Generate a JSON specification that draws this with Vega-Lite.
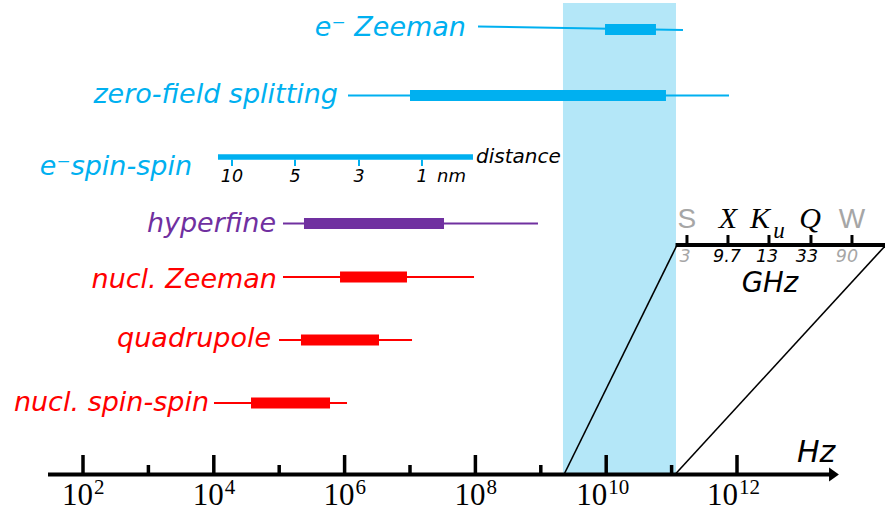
{
  "$schema": "https://vega.github.io/schema/vega-lite/v6.json",
  "width": 885,
  "height": 516,
  "autosize": {"type": "none"},
  "padding": 0,
  "background": "white",
  "config": {"view": {"stroke": null}},
  "encoding": {
    "x": {"field": "L", "type": "quantitative", "scale": {"domain": [0.7309, 14.263], "nice": false, "zero": false}, "axis": null},
    "y": {"field": "lv", "type": "quantitative", "scale": {"domain": [0, 8.6], "nice": false, "zero": false}, "axis": null}
  },
  "layer": [
    {
      "data": {"values": [{"L": 9.339, "L2": 11.067, "lv": 0.7, "lv2": 8.55}]},
      "mark": {"type": "rect", "fill": "#B4E7F8"},
      "encoding": {"x2": {"field": "L2"}, "y2": {"field": "lv2"}}
    },
    {
      "data": {"values": [
        {"name": "e Zeeman", "grp": "electron", "L": 8.04, "L2": 11.174, "lv": 8.158, "lv2": 8.1},
        {"name": "zero-field", "grp": "electron", "L": 6.052, "L2": 11.878, "lv": 7.008, "lv2": 7.008},
        {"name": "hyperfine", "grp": "hyperfine", "L": 5.058, "L2": 8.957, "lv": 4.875, "lv2": 4.875},
        {"name": "nucl Zeeman", "grp": "nuclear", "L": 5.058, "L2": 7.979, "lv": 3.983, "lv2": 3.983},
        {"name": "quadrupole", "grp": "nuclear", "L": 4.997, "L2": 7.031, "lv": 2.933, "lv2": 2.933},
        {"name": "nucl spin-spin", "grp": "nuclear", "L": 4.003, "L2": 6.037, "lv": 1.883, "lv2": 1.883}
      ]},
      "mark": {"type": "rule", "strokeWidth": 2},
      "encoding": {
        "x2": {"field": "L2"},
        "y2": {"field": "lv2"},
        "color": {"field": "grp", "type": "nominal", "scale": {"domain": ["electron", "hyperfine", "nuclear"], "range": ["#00B0F0", "#7030A0", "#FF0000"]}, "legend": null}
      }
    },
    {
      "data": {"values": [
        {"name": "e Zeeman", "grp": "electron", "L": 9.982, "L2": 10.761, "lv": 8.108},
        {"name": "zero-field", "grp": "electron", "L": 7.0, "L2": 10.914, "lv": 7.008},
        {"name": "hyperfine", "grp": "hyperfine", "L": 5.379, "L2": 7.52, "lv": 4.875},
        {"name": "nucl Zeeman", "grp": "nuclear", "L": 5.93, "L2": 6.954, "lv": 3.983},
        {"name": "quadrupole", "grp": "nuclear", "L": 5.333, "L2": 6.526, "lv": 2.933},
        {"name": "nucl spin-spin", "grp": "nuclear", "L": 4.569, "L2": 5.777, "lv": 1.883}
      ]},
      "mark": {"type": "rule", "strokeWidth": 11, "strokeCap": "butt"},
      "encoding": {
        "x2": {"field": "L2"},
        "color": {"field": "grp", "type": "nominal", "legend": null}
      }
    },
    {
      "data": {"values": [{"L": 4.064, "L2": 7.963, "lv": 5.983}]},
      "mark": {"type": "rule", "strokeWidth": 5.5, "strokeCap": "butt", "color": "#00B0F0"},
      "encoding": {"x2": {"field": "L2"}}
    },
    {
      "data": {"values": [
        {"L": 4.278, "lv": 5.94, "lv2": 5.833},
        {"L": 5.242, "lv": 5.94, "lv2": 5.833},
        {"L": 6.22, "lv": 5.94, "lv2": 5.833},
        {"L": 7.183, "lv": 5.94, "lv2": 5.833}
      ]},
      "mark": {"type": "rule", "strokeWidth": 2, "color": "#00B0F0"},
      "encoding": {"y2": {"field": "lv2"}}
    },
    {
      "data": {"values": [
        {"t": "10", "L": 4.278, "lv": 5.567},
        {"t": "5", "L": 5.242, "lv": 5.567},
        {"t": "3", "L": 6.22, "lv": 5.567},
        {"t": "1", "L": 7.183, "lv": 5.567}
      ]},
      "mark": {"type": "text", "font": "DejaVu Sans", "fontStyle": "italic", "fontSize": 17.5, "align": "center", "baseline": "alphabetic", "color": "black"},
      "encoding": {"text": {"field": "t"}}
    },
    {
      "data": {"values": [{"t": "nm", "L": 7.413, "lv": 5.567}]},
      "mark": {"type": "text", "font": "DejaVu Sans", "fontStyle": "italic", "fontSize": 18, "align": "left", "baseline": "alphabetic", "color": "black"},
      "encoding": {"text": {"field": "t"}}
    },
    {
      "data": {"values": [{"t": "distance", "L": 8.009, "lv": 5.883}]},
      "mark": {"type": "text", "font": "DejaVu Sans", "fontStyle": "italic", "fontSize": 20, "align": "left", "baseline": "alphabetic", "color": "black"},
      "encoding": {"text": {"field": "t"}}
    },
    {
      "data": {"values": [{"L": 1.465, "L2": 13.453, "lv": 0.692}]},
      "mark": {"type": "rule", "strokeWidth": 4, "color": "black"},
      "encoding": {"x2": {"field": "L2"}}
    },
    {
      "data": {"values": [{"L": 13.483, "lv": 0.692}]},
      "mark": {"type": "point", "shape": "M -0.7 -1 L 0.7 0 L -0.7 1 Z", "size": 196, "filled": true, "color": "black", "opacity": 1}
    },
    {
      "data": {"values": [
        {"L": 2, "lv": 0.692, "lv2": 1.017},
        {"L": 3, "lv": 0.692, "lv2": 0.85},
        {"L": 4, "lv": 0.692, "lv2": 1.017},
        {"L": 5, "lv": 0.692, "lv2": 0.85},
        {"L": 6, "lv": 0.692, "lv2": 1.017},
        {"L": 7, "lv": 0.692, "lv2": 0.85},
        {"L": 8, "lv": 0.692, "lv2": 1.017},
        {"L": 9, "lv": 0.692, "lv2": 0.85},
        {"L": 10, "lv": 0.692, "lv2": 1.017},
        {"L": 11, "lv": 0.692, "lv2": 0.85},
        {"L": 12, "lv": 0.692, "lv2": 1.017}
      ]},
      "mark": {"type": "rule", "strokeWidth": 3.5, "strokeCap": "butt", "color": "black"},
      "encoding": {"y2": {"field": "lv2"}}
    },
    {
      "data": {"values": [
        {"t": "10", "L": 2, "lv": 0.183},
        {"t": "10", "L": 4, "lv": 0.183},
        {"t": "10", "L": 6, "lv": 0.183},
        {"t": "10", "L": 8, "lv": 0.183}
      ]},
      "mark": {"type": "text", "font": "Liberation Serif", "fontSize": 31, "align": "right", "dx": 10, "baseline": "alphabetic", "color": "black"},
      "encoding": {"text": {"field": "t"}}
    },
    {
      "data": {"values": [
        {"t": "2", "L": 2, "lv": 0.367},
        {"t": "4", "L": 4, "lv": 0.367},
        {"t": "6", "L": 6, "lv": 0.367},
        {"t": "8", "L": 8, "lv": 0.367}
      ]},
      "mark": {"type": "text", "font": "Liberation Serif", "fontSize": 21, "align": "left", "dx": 11, "baseline": "alphabetic", "color": "black"},
      "encoding": {"text": {"field": "t"}}
    },
    {
      "data": {"values": [
        {"t": "10", "L": 10, "lv": 0.183},
        {"t": "10", "L": 12, "lv": 0.183}
      ]},
      "mark": {"type": "text", "font": "Liberation Serif", "fontSize": 31, "align": "right", "dx": 1, "baseline": "alphabetic", "color": "black"},
      "encoding": {"text": {"field": "t"}}
    },
    {
      "data": {"values": [
        {"t": "10", "L": 10, "lv": 0.367},
        {"t": "12", "L": 12, "lv": 0.367}
      ]},
      "mark": {"type": "text", "font": "Liberation Serif", "fontSize": 21, "align": "left", "dx": 2, "baseline": "alphabetic", "color": "black"},
      "encoding": {"text": {"field": "t"}}
    },
    {
      "data": {"values": [{"t": "Hz", "L": 12.917, "lv": 0.9}]},
      "mark": {"type": "text", "font": "DejaVu Sans", "fontStyle": "italic", "fontSize": 30, "align": "left", "baseline": "alphabetic", "color": "black"},
      "encoding": {"text": {"field": "t"}}
    },
    {
      "data": {"values": [
        {"L": 9.355, "lv": 0.692, "L2": 11.083, "lv2": 4.517},
        {"L": 11.052, "lv": 0.692, "L2": 14.263, "lv2": 4.5}
      ]},
      "mark": {"type": "rule", "strokeWidth": 1.6, "color": "black"},
      "encoding": {"x2": {"field": "L2"}, "y2": {"field": "lv2"}}
    },
    {
      "data": {"values": [{"L": 11.06, "L2": 14.263, "lv": 4.517}]},
      "mark": {"type": "rule", "strokeWidth": 4, "color": "black"},
      "encoding": {"x2": {"field": "L2"}}
    },
    {
      "data": {"values": [
        {"L": 11.235, "lv": 4.517, "lv2": 4.683},
        {"L": 11.862, "lv": 4.517, "lv2": 4.683},
        {"L": 12.489, "lv": 4.517, "lv2": 4.683},
        {"L": 13.131, "lv": 4.517, "lv2": 4.683},
        {"L": 13.758, "lv": 4.517, "lv2": 4.683}
      ]},
      "mark": {"type": "rule", "strokeWidth": 3, "strokeCap": "butt", "color": "black"},
      "encoding": {"y2": {"field": "lv2"}}
    },
    {
      "data": {"values": [
        {"t": "S", "L": 11.235, "lv": 4.8},
        {"t": "W", "L": 13.758, "lv": 4.8}
      ]},
      "mark": {"type": "text", "font": "Liberation Sans", "fontSize": 28, "align": "center", "baseline": "alphabetic", "color": "#A6A6A6"},
      "encoding": {"text": {"field": "t"}}
    },
    {
      "data": {"values": [
        {"t": "X", "L": 11.862, "lv": 4.8},
        {"t": "K", "L": 12.352, "lv": 4.8},
        {"t": "Q", "L": 13.116, "lv": 4.8}
      ]},
      "mark": {"type": "text", "font": "Liberation Serif", "fontStyle": "italic", "fontSize": 30, "align": "center", "baseline": "alphabetic", "color": "black"},
      "encoding": {"text": {"field": "t"}}
    },
    {
      "data": {"values": [{"t": "u", "L": 12.642, "lv": 4.633}]},
      "mark": {"type": "text", "font": "Liberation Serif", "fontStyle": "italic", "fontSize": 23, "align": "center", "baseline": "alphabetic", "color": "black"},
      "encoding": {"text": {"field": "t"}}
    },
    {
      "data": {"values": [
        {"t": "3", "c": "off", "L": 11.205, "lv": 4.233},
        {"t": "9.7", "c": "on", "L": 11.847, "lv": 4.233},
        {"t": "13", "c": "on", "L": 12.459, "lv": 4.233},
        {"t": "33", "c": "on", "L": 13.07, "lv": 4.233},
        {"t": "90", "c": "off", "L": 13.682, "lv": 4.233}
      ]},
      "mark": {"type": "text", "font": "DejaVu Sans", "fontStyle": "italic", "fontSize": 17.5, "align": "center", "baseline": "alphabetic"},
      "encoding": {
        "text": {"field": "t"},
        "fill": {"field": "c", "type": "nominal", "scale": {"domain": ["on", "off"], "range": ["#000000", "#A6A6A6"]}, "legend": null}
      }
    },
    {
      "data": {"values": [{"t": "GHz", "L": 12.505, "lv": 3.733}]},
      "mark": {"type": "text", "font": "DejaVu Sans", "fontStyle": "italic", "fontSize": 27.5, "align": "center", "baseline": "alphabetic", "color": "black"},
      "encoding": {"text": {"field": "t"}}
    },
    {
      "data": {"values": [
        {"t": "e⁻ Zeeman", "grp": "electron", "L": 7.856, "lv": 8.0},
        {"t": "zero-field splitting", "grp": "electron", "L": 5.899, "lv": 6.883},
        {"t": "e⁻spin-spin", "grp": "electron", "L": 3.667, "lv": 5.683},
        {"t": "hyperfine", "grp": "hyperfine", "L": 4.951, "lv": 4.733},
        {"t": "nucl. Zeeman", "grp": "nuclear", "L": 4.966, "lv": 3.8},
        {"t": "quadrupole", "grp": "nuclear", "L": 4.875, "lv": 2.817},
        {"t": "nucl. spin-spin", "grp": "nuclear", "L": 3.927, "lv": 1.75}
      ]},
      "mark": {"type": "text", "font": "DejaVu Sans", "fontStyle": "italic", "fontSize": 27, "align": "right", "baseline": "alphabetic"},
      "encoding": {
        "text": {"field": "t"},
        "color": {"field": "grp", "type": "nominal", "legend": null}
      }
    }
  ]
}
